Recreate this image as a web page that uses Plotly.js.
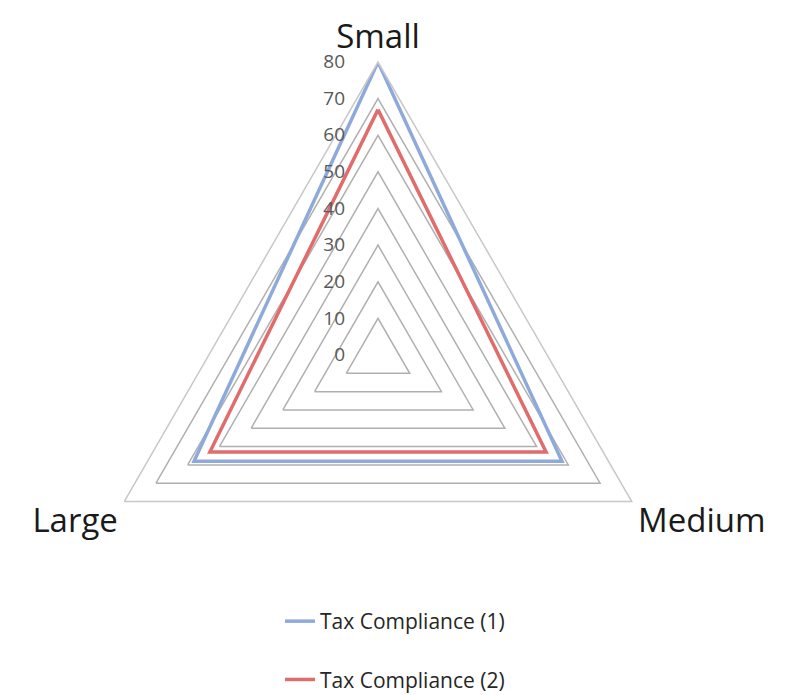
<!DOCTYPE html>
<html>
<head>
<meta charset="utf-8">
<script src="https://cdn.plot.ly/plotly-3.0.1.min.js"></script>
<style>html,body{margin:0;padding:0;background:#fff;}#chart{width:792px;height:695px;}</style>
</head>
<body>
<div id="chart"></div>
<script>
var categories = ["Small", "Medium", "Large"];
var seriesNames = ["Tax Compliance (1)", "Tax Compliance (2)"];
var compliance1 = [80, 58, 58];
var compliance2 = [67, 53, 53];
var radialTicks = [0, 10, 20, 30, 40, 50, 60, 70, 80];

function closed(a) { return a.concat([a[0]]); }
var pad = "\u00a0\u00a0\u00a0\u00a0\u00a0\u00a0";
var radialTickText = radialTicks.map(function (v) { return String(v) + pad; });

var traces = [
  {type: "scatterpolar", r: closed(compliance1), theta: closed(categories), mode: "lines",
   name: seriesNames[0], legendgroup: "a", line: {color: "#8eaadb", width: 3.5}},
  {type: "scatterpolar", r: closed(compliance2), theta: closed(categories), mode: "lines",
   name: seriesNames[1], legendgroup: "b", line: {color: "#e06c6c", width: 3.5}}
];

var R = 293, cx = 378, cy = 355, W = 792, H = 695;
var layout = {
  width: W, height: H,
  margin: {l: 0, r: 0, t: 0, b: 0, autoexpand: false},
  paper_bgcolor: "#ffffff",
  font: {family: "Open Sans, sans-serif", color: "#595959"},
  showlegend: true,
  legend: {x: 0.3535, xanchor: "left", y: (H - 601) / H, yanchor: "top",
           traceorder: "grouped", tracegroupgap: 28,
           font: {size: 21, color: "#262626", family: "Open Sans, sans-serif"}},
  polar: {
    domain: {x: [(cx - R) / W, (cx + R) / W], y: [(H - cy - R) / H, (H - cy + R) / H]},
    gridshape: "linear",
    bgcolor: "rgba(0,0,0,0)",
    angularaxis: {rotation: 90, direction: "clockwise", showgrid: false,
                  linecolor: "#c8c8c8", linewidth: 1.5, ticks: "",
                  tickfont: {size: 33, color: "#1a1a1a", family: "Open Sans, sans-serif"}},
    radialaxis: {range: [0, 80], tickvals: radialTicks, ticktext: radialTickText,
                 angle: 90, side: "counterclockwise", tickangle: 90,
                 showline: false, ticks: "", gridcolor: "#b0b0b0", gridwidth: 1.5,
                 tickfont: {size: 19, color: "#595959"}}
  }
};
Plotly.newPlot("chart", traces, layout, {staticPlot: true});
</script>
</body>
</html>
